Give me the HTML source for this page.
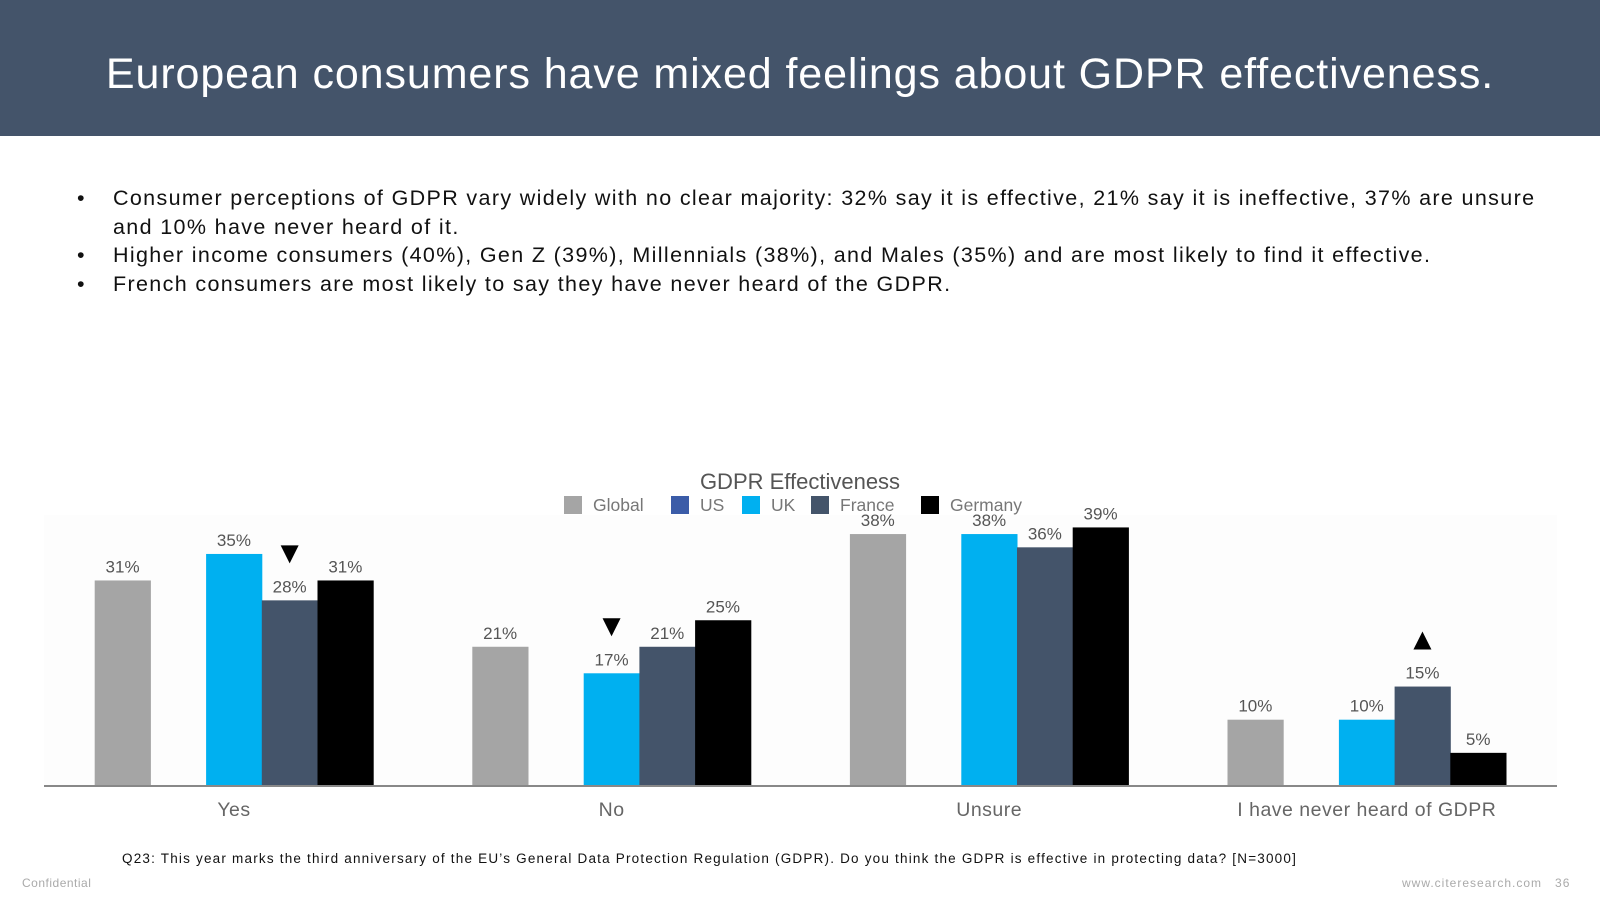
<!DOCTYPE html>
<html><head><meta charset="utf-8"><style>
body{margin:0;width:1600px;height:900px;background:#fff;font-family:"Liberation Sans",sans-serif;position:relative;overflow:hidden}
#hdr{position:absolute;left:0;top:0;width:1600px;height:136px;background:#44546a;color:#fff;font-size:43px;text-align:center;line-height:148px;letter-spacing:0.9px}
ul{position:absolute;left:77px;top:184px;margin:0;padding:0;list-style:none;width:1520px;font-size:21.5px;color:#111;line-height:28.5px;letter-spacing:1.35px}
li{position:relative;padding-left:36px}
li:before{content:"•";position:absolute;left:0}
.ft{position:absolute;font-size:12px;color:#aaa}
</style></head><body>
<div id="hdr">European consumers have mixed feelings about GDPR effectiveness.</div>
<ul>
<li>Consumer perceptions of GDPR vary widely with no clear majority: 32% say it is effective, 21% say it is ineffective, 37% are unsure<br>and 10% have never heard of it.</li>
<li>Higher income consumers (40%), Gen Z (39%), Millennials (38%), and Males (35%) and are most likely to find it effective.</li>
<li>French consumers are most likely to say they have never heard of the GDPR.</li>
</ul>
<svg id="chart" width="1600" height="900" style="position:absolute;left:0;top:0"></svg>
<div class="ft" style="left:122px;top:851px;font-size:13.5px;color:#111;letter-spacing:1.2px;white-space:nowrap">Q23: This year marks the third anniversary of the EU’s General Data Protection Regulation (GDPR). Do you think the GDPR is effective in protecting data? [N=3000]</div>
<div class="ft" style="left:22px;top:876px;letter-spacing:0.5px">Confidential</div>
<div class="ft" style="left:1402px;top:876px;letter-spacing:1px">www.citeresearch.com &nbsp; 36</div>
<script>
const categories=["Yes","No","Unsure","I have never heard of GDPR"];
const seriesNames=["Global","US","UK","France","Germany"];
const globalVals=[31,21,38,10];
const usVals=[null,null,null,null];
const ukVals=[35,17,38,10];
const franceVals=[28,21,36,15];
const germanyVals=[31,25,39,5];
const arrows=[{cat:0,ser:3,dir:"down"},{cat:1,ser:2,dir:"down"},{cat:3,ser:3,dir:"up"}];
const colors=["#a5a5a5","#3b5ca8","#00b0f0","#44546a","#000000"];
const all=[globalVals,usVals,ukVals,franceVals,germanyVals];
const svg=document.getElementById('chart');const NS="http://www.w3.org/2000/svg";
function mk(t,a,p){const e=document.createElementNS(NS,t);for(const k in a)e.setAttribute(k,a[k]);(p||svg).appendChild(e);return e;}
const base=786,ppu=6.63;
function y(v){return base-v*ppu;}
const slot=55.7,gw=377.6;
function xc(c){return 234+c*gw;}
function xb(c,s){return xc(c)-139.3+s*slot;}
mk('rect',{x:44,y:515,width:1513,height:271,fill:'#fdfdfd'});
all.forEach((vals,s)=>{vals.forEach((v,c)=>{if(v==null)return;
const r=mk('rect',{x:xb(c,s),y:y(v),width:slot+0.5,height:v*ppu,fill:colors[s]});


const t=mk('text',{x:xb(c,s)+slot/2,y:y(v)-8,'text-anchor':'middle','font-size':17,fill:'#555','font-family':'Liberation Sans, sans-serif'});t.textContent=v+'%';


});});
arrows.forEach(a=>{const v=all[a.ser][a.cat];const cx=xb(a.cat,a.ser)+slot/2;const top=y(v)-46;
const p=a.dir==="down"?`M${cx-9},${top-9} L${cx+9},${top-9} L${cx},${top+9}Z`:`M${cx-9},${top+9} L${cx+9},${top+9} L${cx},${top-9}Z`;
const e=mk('path',{d:p,fill:'#000'});

});
const ax=mk('line',{x1:44,y1:786,x2:1557,y2:786,stroke:'#888','stroke-width':2});


categories.forEach((c,i)=>{const t=mk('text',{x:xc(i),y:816,'text-anchor':'middle','font-size':19.5,fill:'#666','letter-spacing':0.5,'font-family':'Liberation Sans, sans-serif'});t.textContent=c;

});
const ti=mk('text',{x:800,y:489,'text-anchor':'middle','font-size':22,fill:'#555','font-family':'Liberation Sans, sans-serif'});ti.textContent="GDPR Effectiveness";


const lx=[564,671,742,811,921];
seriesNames.forEach((n,i)=>{mk('rect',{x:lx[i],y:496,width:18,height:18,fill:colors[i]});
const t=mk('text',{x:lx[i]+29,y:511,'font-size':17.5,fill:'#777','font-family':'Liberation Sans, sans-serif'});t.textContent=n;

});
</script>
</body></html>
